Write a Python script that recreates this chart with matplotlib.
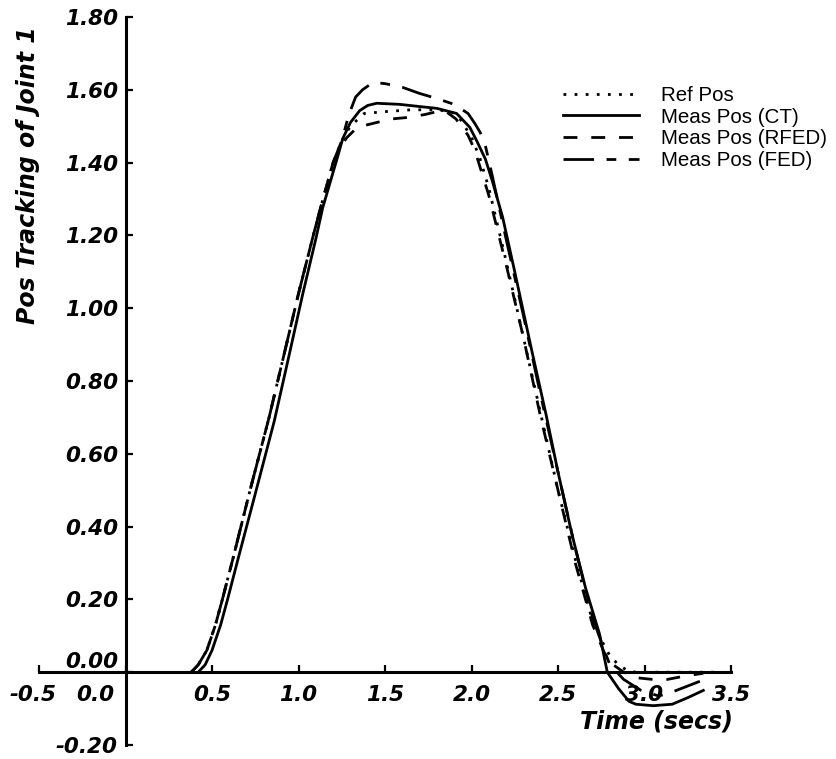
import matplotlib.pyplot as plt
from matplotlib.transforms import ScaledTranslation

# === data ===
t_ref = [0.38, 0.42, 0.47, 0.52, 0.56, 0.62, 0.72, 0.83, 0.92, 1.00, 1.08, 1.13, 1.20, 1.25,
         1.30, 1.38, 1.50, 1.65, 1.80, 1.88, 1.92, 2.00, 2.05, 2.10, 2.20, 2.30, 2.40, 2.50,
         2.60, 2.70, 2.76, 2.80, 2.85, 2.90, 2.95, 3.40]
y_ref = [0.0, 0.02, 0.06, 0.13, 0.20, 0.31, 0.50, 0.70, 0.88, 1.04, 1.19, 1.28, 1.40, 1.46,
         1.50, 1.535, 1.54, 1.545, 1.545, 1.54, 1.53, 1.47, 1.41, 1.33, 1.13, 0.92, 0.71, 0.50,
         0.31, 0.14, 0.08, 0.045, 0.02, 0.005, 0.0, 0.0]

t_ct = [0.42, 0.46, 0.50, 0.55, 0.59, 0.65, 0.75, 0.86, 0.95, 1.025, 1.10, 1.14, 1.22, 1.256,
        1.30, 1.354, 1.40, 1.452, 1.585, 1.70, 1.80, 1.914, 1.99, 2.03, 2.08, 2.12, 2.18, 2.25,
        2.35, 2.43, 2.50, 2.58, 2.66, 2.74, 2.785, 2.85, 2.91, 2.95, 3.05, 3.16, 3.25, 3.34]
y_ct = [0.0, 0.02, 0.06, 0.13, 0.20, 0.31, 0.49, 0.69, 0.88, 1.04, 1.19, 1.276, 1.406, 1.466,
        1.51, 1.543, 1.557, 1.563, 1.56, 1.554, 1.549, 1.535, 1.497, 1.46, 1.41, 1.35, 1.25, 1.10,
        0.88, 0.71, 0.55, 0.38, 0.23, 0.105, 0.0, -0.045, -0.08, -0.088, -0.092, -0.088, -0.07, -0.05]

t_rfed = [0.38, 0.42, 0.47, 0.52, 0.56, 0.62, 0.72, 0.83, 0.92, 1.00, 1.08, 1.13, 1.20, 1.25,
          1.28, 1.34, 1.45, 1.54, 1.63, 1.73, 1.80, 1.845, 1.91, 1.98, 2.02, 2.10, 2.20, 2.30,
          2.40, 2.50, 2.60, 2.70, 2.78, 2.82, 2.88, 2.95, 3.05, 3.13, 3.24, 3.34]
y_rfed = [0.0, 0.02, 0.06, 0.13, 0.20, 0.31, 0.50, 0.70, 0.88, 1.04, 1.19, 1.28, 1.40, 1.45,
          1.469, 1.497, 1.51, 1.52, 1.524, 1.532, 1.54, 1.543, 1.52, 1.475, 1.433, 1.31, 1.12, 0.92,
          0.70, 0.50, 0.30, 0.13, 0.04, 0.02, 0.0, -0.015, -0.02, -0.02, -0.01, -0.003]

t_fed = [0.38, 0.42, 0.47, 0.52, 0.56, 0.62, 0.72, 0.83, 0.92, 1.00, 1.08, 1.13, 1.20, 1.25,
         1.29, 1.33, 1.37, 1.43, 1.50, 1.60, 1.70, 1.80, 1.90, 1.98, 2.02, 2.05, 2.08, 2.12,
         2.20, 2.30, 2.40, 2.50, 2.60, 2.70, 2.76, 2.80, 2.88, 2.98, 3.08, 3.13, 3.32]
y_fed = [0.0, 0.02, 0.06, 0.13, 0.20, 0.31, 0.50, 0.70, 0.88, 1.04, 1.19, 1.28, 1.40, 1.46,
         1.53, 1.58, 1.60, 1.62, 1.617, 1.607, 1.59, 1.576, 1.56, 1.535, 1.507, 1.483, 1.447, 1.364,
         1.19, 0.98, 0.76, 0.55, 0.34, 0.15, 0.07, 0.02, -0.02, -0.05, -0.065, -0.06, -0.025]

x_ticks = [-0.5, 0.0, 0.5, 1.0, 1.5, 2.0, 2.5, 3.0, 3.5]
x_labels = ["-0.5", "0.0", "0.5", "1.0", "1.5", "2.0", "2.5", "3.0", "3.5"]
y_ticks = [-0.2, 0.0, 0.2, 0.4, 0.6, 0.8, 1.0, 1.2, 1.4, 1.6, 1.8]
y_labels = ["-0.20", "0.00", "0.20", "0.40", "0.60", "0.80", "1.00", "1.20", "1.40", "1.60", "1.80"]

# === figure ===
fig = plt.figure(figsize=(8.36, 7.59), dpi=100)
ax = fig.add_axes([39 / 836, 1 - 745 / 759, (731 - 39) / 836, (745 - 17) / 759])

lw = 2.0
ax.plot(t_ref, y_ref, color="black", lw=lw, linestyle=(0, (1, 3)), label="Ref Pos")
ax.plot(t_ct, y_ct, color="black", lw=lw, linestyle="-", label="Meas Pos (CT)", zorder=3)
ax.plot(t_rfed, y_rfed, color="black", lw=lw, linestyle=(0, (5, 5)), label="Meas Pos (RFED)")
ax.plot(t_fed, y_fed, color="black", lw=lw, linestyle=(0, (11, 4.5, 3.5, 4.5)),
        label="Meas Pos (FED)")

ax.set_xlim(-0.5, 3.5)
ax.set_ylim(-0.2, 1.8)

for s in ["top", "right"]:
    ax.spines[s].set_visible(False)
ax.spines["left"].set_position(("data", 0))
ax.spines["bottom"].set_position(("data", 0))
ax.spines["left"].set_linewidth(2.2)
ax.spines["bottom"].set_linewidth(2.2)

tick_font = dict(family="DejaVu Sans", weight="bold", style="italic", size=15.5)
ax.set_xticks(x_ticks)
ax.set_xticklabels(x_labels, fontdict=tick_font)
ax.set_yticks(y_ticks)
ax.set_yticklabels(y_labels, fontdict=tick_font)
ax.tick_params(axis="x", direction="in", length=5, width=1.6, pad=9)
ax.tick_params(axis="y", direction="in", length=5, width=1.6, pad=5.5)

# a few labels are nudged off the axis lines, as in the original
px = fig.dpi_scale_trans
xl = ax.get_xticklabels()
xl[0].set_transform(xl[0].get_transform() + ScaledTranslation(-6 / 100, 0, px))
xl[1].set_transform(xl[1].get_transform() + ScaledTranslation(-30 / 100, 0, px))
yl = ax.get_yticklabels()
yl[1].set_transform(yl[1].get_transform() + ScaledTranslation(0, 12 / 100, px))

fig.text(28 / 836, 1 - 175 / 759, "Pos Tracking of Joint 1", rotation=90,
         ha="center", va="center", family="DejaVu Sans", weight="bold", style="italic", size=17)
fig.text(733 / 836, 1 - 722 / 759, "Time (secs)", ha="right", va="center",
         family="DejaVu Sans", weight="bold", style="italic", size=17)

ax.legend(loc="upper left", bbox_to_anchor=(563 / 836, 1 - 86 / 759),
          bbox_transform=fig.transFigure, frameon=False, handlelength=3.7,
          handletextpad=1.05, labelspacing=0.13, borderpad=0, borderaxespad=0,
          prop=dict(family="Liberation Sans", size=14.8))

fig.savefig("out.png", dpi=100)
